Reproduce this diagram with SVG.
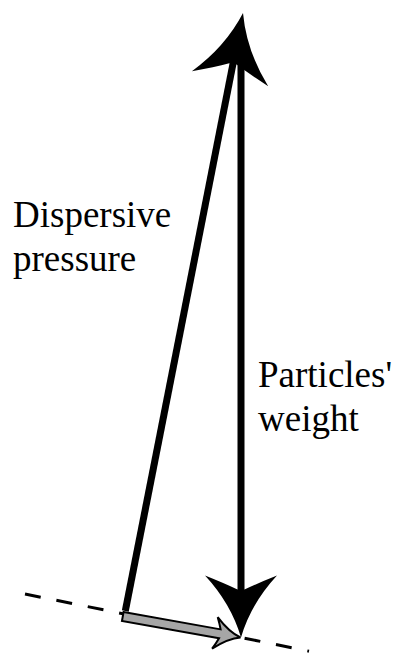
<svg xmlns="http://www.w3.org/2000/svg" width="399" height="654" viewBox="0 0 399 654">
  <style>
    .lbl { font-family: "Liberation Serif", "Times New Roman", Times, serif; font-size: 37px; fill: #000; }
    .shaft { stroke: #000; stroke-width: 7; fill: none; }
    .dash { stroke: #000; stroke-width: 3; stroke-dasharray: 16 16; fill: none; }
    .head { fill: #000; stroke: none; }
    .gray { fill: #a6a6a6; stroke: #000; stroke-width: 2; stroke-linejoin: miter; }
  </style>
  <defs>
    <path id="bighead" d="M0,0 Q-34,-10 -62,-36 Q-54,-16 -48,-3.5 L-48,3.5 Q-54,16 -62,36 Q-34,10 0,0 Z"/>
  </defs>
  <rect width="399" height="654" fill="#fff"/>
  <g id="connectors">
    <path id="slope" class="dash" d="M25,594 L309,651.2"/>
    <g id="resultant">
      <path class="gray" transform="translate(240.5,637.5) rotate(10.1)" d="M-119.6,-4.5 L-21,-4.5 Q-23,-10 -26,-16 Q-12,-3 0,0 Q-12,3 -26,16 Q-23,10 -21,4.5 L-119.6,4.5 Z"/>
    </g>
    <g id="weight-arrow">
      <path class="shaft" d="M241,50 L241,590"/>
      <use href="#bighead" class="head" transform="translate(241,637.5) rotate(90)"/>
    </g>
    <g id="dispersive-arrow">
      <path class="shaft" d="M125.3,611 L234.3,57.1"/>
      <use href="#bighead" class="head" transform="translate(243,13) rotate(-78.84) scale(1.08)"/>
    </g>
  </g>
  <g id="label-dispersive">
    <text class="lbl" x="13" y="227">Dispersive</text>
    <text class="lbl" x="13" y="271">pressure</text>
  </g>
  <g id="label-weight">
    <text class="lbl" x="258" y="387">Particles'</text>
    <text class="lbl" x="258" y="431">weight</text>
  </g>
</svg>
